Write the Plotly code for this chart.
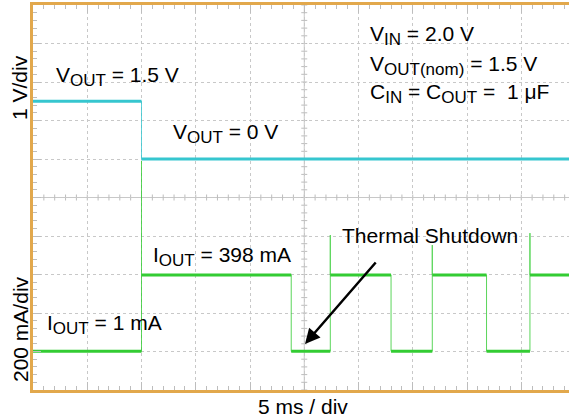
import plotly.graph_objects as go

# Scope capture: 5 ms/div horizontally, CH1 = VOUT (1 V/div), CH2 = IOUT (200 mA/div)
vout_edges_ms = [0.0, 10.0, 49.4]
vout_levels_v = [1.5, 0.0]

iout_edges_ms = [0.0, 10.0, 23.8, 27.4, 33.0, 36.8, 41.8, 45.8, 49.4]
iout_levels_ma = [1, 398, 1, 398, 1, 398, 1, 398]
iout_spike_ma = [990, 605, 553, 615]  # peak on each turn-on edge

CYAN = "#36c6cf"
GREEN = "#33cc33"
FRAME = "#e2a84c"
GRID = "#c8c8c8"
TICK = "#bdbdbd"
FONT = "Liberation Sans, Arial, Helvetica, sans-serif"


def step_path(edges, levels, spikes=None):
    xs, ys = [], []
    k = 0
    for i, lvl in enumerate(levels):
        xs += [edges[i], edges[i + 1]]
        ys += [lvl, lvl]
        if i + 1 < len(levels):
            nxt = levels[i + 1]
            if spikes is not None and nxt > lvl:
                xs += [edges[i + 1], edges[i + 1]]
                ys += [spikes[k], nxt]
                k += 1
    return xs, ys


def flat_segments(edges, levels):
    xs, ys = [], []
    for i, lvl in enumerate(levels):
        xs += [edges[i], edges[i + 1], None]
        ys += [lvl, lvl, None]
    return xs, ys


fig = go.Figure()

vx, vy = step_path(vout_edges_ms, vout_levels_v)
fig.add_trace(go.Scatter(x=vx, y=vy, mode="lines", line=dict(color=CYAN, width=1),
                         opacity=0.8, yaxis="y", hoverinfo="skip"))
vx, vy = flat_segments(vout_edges_ms, vout_levels_v)
fig.add_trace(go.Scatter(x=vx, y=vy, mode="lines", line=dict(color=CYAN, width=3),
                         yaxis="y", hoverinfo="skip"))

ix, iy = step_path(iout_edges_ms, iout_levels_ma, iout_spike_ma)
fig.add_trace(go.Scatter(x=ix, y=iy, mode="lines", line=dict(color=GREEN, width=1),
                         opacity=0.8, yaxis="y2", hoverinfo="skip"))
ix, iy = flat_segments(iout_edges_ms, iout_levels_ma)
fig.add_trace(go.Scatter(x=ix, y=iy, mode="lines", line=dict(color=GREEN, width=3),
                         yaxis="y2", hoverinfo="skip"))

# graticule centre cross with minor tick marks
X_END = 49.4
X_MID = 25.0
Y_MID = -1.0
shapes = [
    dict(type="line", xref="x", yref="y", x0=0, x1=X_END, y0=Y_MID, y1=Y_MID,
         line=dict(color=GRID, width=1), layer="below"),
    dict(type="line", xref="x", yref="y", x0=X_MID, x1=X_MID, y0=-6, y1=4,
         line=dict(color=GRID, width=1), layer="below"),
]
for j in range(1, 50):
    shapes.append(dict(type="line", xref="x", yref="y", ysizemode="pixel", yanchor=Y_MID,
                       x0=j, x1=j, y0=-3, y1=3, line=dict(color=TICK, width=1), layer="below"))
for j in range(-30, 21):
    v = j * 0.2
    shapes.append(dict(type="line", xref="x", yref="y", xsizemode="pixel", xanchor=X_MID,
                       x0=-3, x1=3, y0=v, y1=v, line=dict(color=TICK, width=1), layer="below"))

txt = dict(size=21, color="black", family=FONT)


def sub(s):
    return "<sub><span style='font-size:17px'>" + s + "</span></sub>"


def label(text, x, y, xanchor="left"):
    return dict(text=text, x=x, y=y, xref="paper", yref="paper", xanchor=xanchor,
                yanchor="middle", showarrow=False, font=txt)


W, H = 569, 420
L, T, B = 33, 5, 30
PW, PH = W - L, H - T - B


def px(xp):
    return (xp - L) / PW


def py(yp):
    return (H - B - yp) / PH


annotations = [
    label("V" + sub("OUT") + " = 1.5 V", px(54), py(77)),
    label("V" + sub("OUT") + " = 0 V", px(171), py(133)),
    label("V" + sub("IN") + " = 2.0 V", px(368), py(35)),
    label("V" + sub("OUT(nom)") + " = 1.5 V", px(368), py(65)),
    label("C" + sub("IN") + " = C" + sub("OUT") + " =  1 μF", px(368), py(94)),
    label("I" + sub("OUT") + " = 398 mA", px(151), py(256)),
    label("I" + sub("OUT") + " = 1 mA", px(45), py(324)),
    label("Thermal Shutdown", px(340), py(235)),
    dict(text="5 ms / div", x=px(303), y=py(406), xref="paper", yref="paper",
         xanchor="center", yanchor="middle", showarrow=False, font=txt),
    dict(text="1 V/div", x=px(20), y=py(88), xref="paper", yref="paper", textangle=-90,
         xanchor="center", yanchor="middle", showarrow=False, font=txt),
    dict(text="200 mA/div", x=px(20), y=py(329), xref="paper", yref="paper", textangle=-90,
         xanchor="center", yanchor="middle", showarrow=False, font=txt),
    dict(text="", x=px(305), y=py(344), xref="paper", yref="paper", showarrow=True,
         ax=72, ay=-83, axref="pixel", ayref="pixel", arrowhead=2, arrowsize=1.2,
         arrowwidth=2.5, arrowcolor="black", standoff=0),
]

fig.update_layout(
    width=W, height=H,
    margin=dict(l=L, r=0, t=T, b=B),
    paper_bgcolor="white", plot_bgcolor="white",
    showlegend=False,
    xaxis=dict(range=[0, X_END], dtick=5, tick0=0, showticklabels=False,
               ticks="inside", ticklen=8, tickwidth=1, tickcolor=TICK,
               minor=dict(dtick=1, ticks="inside", ticklen=4, tickcolor=TICK, showgrid=False),
               showgrid=True, gridcolor=GRID, griddash="dot", gridwidth=1,
               zeroline=False, showline=True, linecolor=FRAME, linewidth=3, mirror="ticks"),
    yaxis=dict(range=[-6, 4], dtick=1, tick0=0, showticklabels=False,
               ticks="inside", ticklen=8, tickwidth=1, tickcolor=TICK,
               minor=dict(dtick=0.2, ticks="inside", ticklen=4, tickcolor=TICK, showgrid=False),
               showgrid=True, gridcolor=GRID, griddash="dot", gridwidth=1,
               zeroline=False, showline=True, linecolor=FRAME, linewidth=3),
    yaxis2=dict(range=[-200, 1800], overlaying="y", visible=False, showgrid=False,
                zeroline=False),
    shapes=shapes,
    annotations=annotations,
)

fig.write_html("out.html")
